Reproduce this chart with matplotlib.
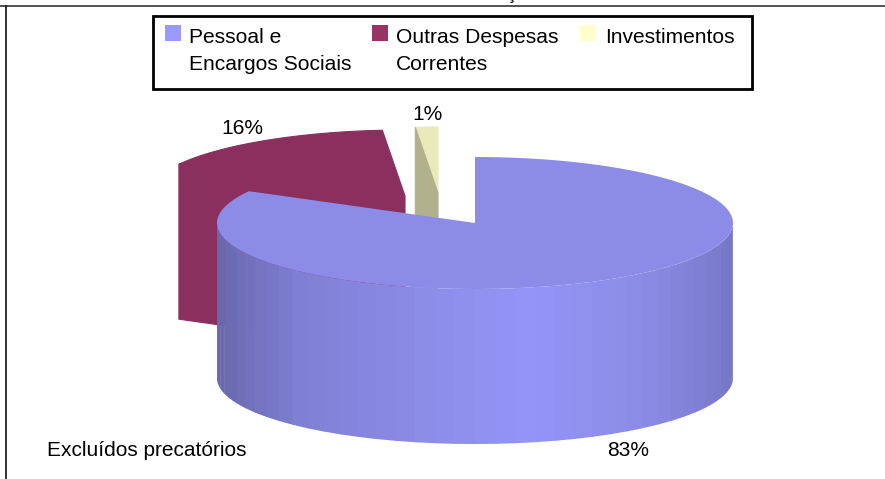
import numpy as np
import matplotlib
matplotlib.use("Agg")
import matplotlib.pyplot as plt
from matplotlib.patches import Rectangle, Polygon

# shares of each slice
categories = ["Pessoal e\nEncargos Sociais", "Outras Despesas\nCorrentes", "Investimentos"]
shares = [83.0, 15.6, 1.4]
share_labels = ["83%", "16%", "1%"]
colors = ["#9999FF", "#993366", "#FFFFCC"]
top_colors = ["#8C8CE8", "#8B2F5E", "#EAE9BB"]
face_colors = ["#8C8CE8", "#8B2F5E", "#B2B18E"]
note = "Excluídos precatórios"

# pie geometry in pixels
rx, ry, depth = 258, 66, 155
centers = [(475, 223), (405, 196), (438, 193)]

plt.rcParams["font.family"] = ["Liberation Sans", "DejaVu Sans"]
fig = plt.figure(figsize=(8.85, 4.79), dpi=100)
ax = fig.add_axes([0, 0, 1, 1])
ax.set_xlim(0, 885)
ax.set_ylim(479, 0)
ax.axis("off")


def rim(center, a0, a1):
    t = np.radians(np.linspace(a0, a1, 200))
    return np.column_stack([center[0] + rx * np.cos(t), center[1] - ry * np.sin(t)])


# slice angles, clockwise from the top
stops = 90 - np.cumsum([0] + shares) * 3.6

# small slices go first, they sit behind the big one
for i in [1, 2]:
    c = np.array(centers[i])
    left, right = stops[i], stops[i + 1]
    edge = rim(c, left, left)[0]
    wall = [edge, c, c + [0, depth], edge + [0, depth]]
    ax.add_patch(Polygon(np.vstack([c, rim(c, left, right)]), closed=True, fc=top_colors[i], ec=top_colors[i], lw=0.8, zorder=2))
    ax.add_patch(Polygon(wall, closed=True, fc=face_colors[i], ec=face_colors[i], lw=0.8, zorder=2))

# outer wall of the big slice, built from flat shaded bands
c = np.array(centers[0])
edges = np.linspace(180, 360, 41)
shade_x = [217, 300, 400, 530, 650, 733]
shade_y = [0.68, 0.83, 0.90, 0.97, 0.90, 0.78]
base = np.array(matplotlib.colors.to_rgb(colors[0]))
for a0, a1 in zip(edges[:-1], edges[1:]):
    mid_x = c[0] + rx * np.cos(np.radians((a0 + a1) / 2))
    arc = rim(c, a0, a1 + 0.4)
    band = np.vstack([arc, (arc + [0, depth])[::-1]])
    ax.add_patch(Polygon(band, closed=True, fc=base * np.interp(mid_x, shade_x, shade_y), ec="none", zorder=3))

# top face of the big slice
top = np.vstack([c, rim(c, stops[0], stops[1])])
ax.add_patch(Polygon(top, closed=True, fc=top_colors[0], ec="none", zorder=4))

# percent labels
ax.text(628, 451, share_labels[0], fontsize=15.1, ha="center", va="center", zorder=5)
ax.text(242, 128, share_labels[1], fontsize=15.1, ha="center", va="center", zorder=5)
ax.text(427, 114, share_labels[2], fontsize=15.1, ha="center", va="center", zorder=5)
ax.text(47, 450, note, fontsize=15, ha="left", va="center", zorder=5)

# legend box
ax.add_patch(Rectangle((153, 16), 599, 73, fc="white", ec="black", lw=2, zorder=5))
swatch_x = [165, 372, 580]
label_x = [189, 396, 605]
for x, lx, col, name in zip(swatch_x, label_x, colors, categories):
    ax.add_patch(Rectangle((x, 25), 16, 16, fc=col, ec="none", zorder=6))
    ax.text(lx, 28, name, fontsize=15.1, ha="left", va="top", linespacing=1.5, zorder=6)

# page frame, with the tail of the cropped title above it
ax.plot([0, 885], [6, 6], color="#333333", lw=1.2, zorder=1)
ax.plot([6, 6], [6, 479], color="#111111", lw=1.2, zorder=1)
ax.text(511, -1, "ç", fontsize=13, ha="center", va="baseline", zorder=1)

fig.savefig("out.png", dpi=100)
